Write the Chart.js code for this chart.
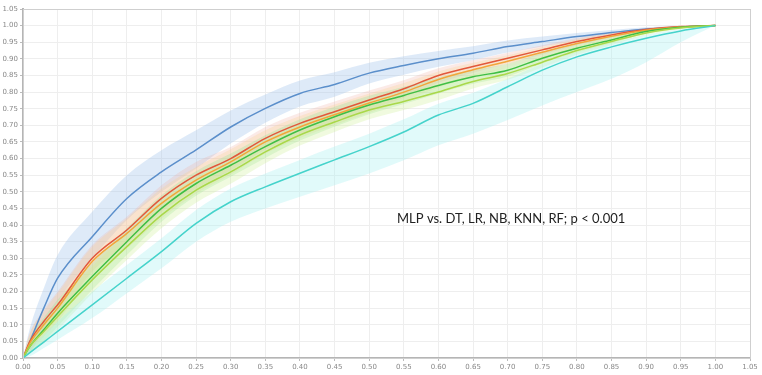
<!DOCTYPE html>
<html>
<head>
<meta charset="utf-8">
<script src="https://cdn.jsdelivr.net/npm/chart.js@4.4.1/dist/chart.umd.min.js"></script>
<style>
  html, body { margin: 0; padding: 0; background: #fff; }
  #wrap { width: 762px; height: 375px; position: relative; }
</style>
</head>
<body>
<div id="wrap"><canvas id="roc"></canvas></div>
<script>
// false positive rate grid shared by every curve
const fpr = [0, 0.01, 0.03, 0.05, 0.1, 0.15, 0.2, 0.25, 0.3, 0.35, 0.4, 0.45, 0.5, 0.55, 0.6, 0.65, 0.7, 0.75, 0.8, 0.85, 0.9, 0.95, 1];

// mean TPR + band edges
const blueMean = [0, 0.05, 0.15, 0.24, 0.365, 0.48, 0.56, 0.626, 0.695, 0.751, 0.796, 0.823, 0.857, 0.88, 0.9, 0.917, 0.937, 0.952, 0.967, 0.979, 0.99, 0.996, 1];
const blueUp   = [0, 0.09, 0.21, 0.31, 0.44, 0.55, 0.625, 0.685, 0.745, 0.793, 0.835, 0.86, 0.888, 0.908, 0.924, 0.938, 0.955, 0.967, 0.978, 0.987, 0.995, 0.998, 1];
const blueLo   = [0, 0.015, 0.09, 0.17, 0.3, 0.415, 0.5, 0.57, 0.645, 0.708, 0.757, 0.786, 0.826, 0.852, 0.876, 0.896, 0.919, 0.937, 0.955, 0.97, 0.985, 0.994, 1];

const redMean = [0, 0.05, 0.11, 0.16, 0.3, 0.385, 0.48, 0.55, 0.6, 0.661, 0.706, 0.741, 0.776, 0.81, 0.85, 0.877, 0.902, 0.927, 0.952, 0.972, 0.988, 0.997, 1];
const redUp   = [0, 0.075, 0.145, 0.2, 0.34, 0.425, 0.52, 0.59, 0.635, 0.695, 0.738, 0.772, 0.805, 0.836, 0.872, 0.896, 0.918, 0.941, 0.963, 0.98, 0.993, 0.999, 1];
const redLo   = [0, 0.025, 0.075, 0.12, 0.26, 0.345, 0.44, 0.51, 0.565, 0.627, 0.674, 0.71, 0.747, 0.784, 0.828, 0.858, 0.886, 0.913, 0.941, 0.964, 0.983, 0.995, 1];

const orangeMean = [0, 0.045, 0.1, 0.15, 0.29, 0.375, 0.465, 0.535, 0.59, 0.65, 0.695, 0.732, 0.767, 0.8, 0.838, 0.867, 0.893, 0.92, 0.946, 0.968, 0.986, 0.996, 1];
const orangeUp   = [0, 0.075, 0.14, 0.195, 0.335, 0.42, 0.51, 0.575, 0.628, 0.685, 0.728, 0.763, 0.796, 0.827, 0.862, 0.888, 0.911, 0.936, 0.959, 0.978, 0.992, 0.998, 1];
const orangeLo   = [0, 0.02, 0.065, 0.11, 0.245, 0.33, 0.42, 0.495, 0.552, 0.615, 0.662, 0.701, 0.738, 0.773, 0.814, 0.846, 0.875, 0.904, 0.933, 0.958, 0.98, 0.994, 1];

const greenMean = [0, 0.035, 0.085, 0.135, 0.245, 0.35, 0.45, 0.525, 0.58, 0.636, 0.686, 0.726, 0.761, 0.79, 0.82, 0.846, 0.866, 0.902, 0.932, 0.957, 0.982, 0.995, 1];
const greenUp   = [0, 0.06, 0.12, 0.175, 0.285, 0.39, 0.49, 0.562, 0.615, 0.67, 0.718, 0.756, 0.789, 0.816, 0.844, 0.867, 0.885, 0.918, 0.945, 0.967, 0.988, 0.997, 1];
const greenLo   = [0, 0.015, 0.05, 0.095, 0.205, 0.31, 0.41, 0.488, 0.545, 0.602, 0.654, 0.696, 0.733, 0.764, 0.796, 0.825, 0.847, 0.886, 0.919, 0.947, 0.976, 0.993, 1];

const limeMean = [0, 0.035, 0.08, 0.125, 0.235, 0.335, 0.43, 0.505, 0.56, 0.62, 0.671, 0.71, 0.746, 0.772, 0.8, 0.832, 0.856, 0.89, 0.925, 0.952, 0.978, 0.993, 1];
const limeUp   = [0, 0.06, 0.115, 0.165, 0.275, 0.375, 0.47, 0.543, 0.596, 0.654, 0.703, 0.74, 0.774, 0.798, 0.824, 0.853, 0.875, 0.906, 0.938, 0.962, 0.985, 0.996, 1];
const limeLo   = [0, 0.015, 0.045, 0.085, 0.195, 0.295, 0.39, 0.467, 0.524, 0.586, 0.639, 0.68, 0.718, 0.746, 0.776, 0.811, 0.837, 0.874, 0.912, 0.942, 0.971, 0.99, 1];

const cyanMean = [0, 0.016, 0.048, 0.08, 0.16, 0.24, 0.32, 0.405, 0.47, 0.515, 0.556, 0.596, 0.636, 0.68, 0.731, 0.766, 0.816, 0.866, 0.906, 0.936, 0.962, 0.984, 1];
const cyanUp   = [0, 0.03, 0.07, 0.11, 0.2, 0.28, 0.36, 0.445, 0.51, 0.555, 0.596, 0.636, 0.675, 0.718, 0.765, 0.798, 0.84, 0.885, 0.92, 0.948, 0.972, 0.99, 1];
const cyanLo   = [0, 0.005, 0.03, 0.055, 0.12, 0.195, 0.27, 0.35, 0.41, 0.45, 0.485, 0.52, 0.555, 0.595, 0.64, 0.675, 0.716, 0.76, 0.8, 0.84, 0.89, 0.95, 1];

const noteText = "MLP vs. DT, LR, NB, KNN, RF; p < 0.001";

const pts = arr => arr.map((v, i) => ({x: fpr[i], y: v}));

// series: [mean, up, lo, line colour, band colour]
const series = [
  [cyanMean, cyanUp, cyanLo, "#45d3cb", "rgba(170,240,240,0.35)"],
  [limeMean, limeUp, limeLo, "#a9d84a", "rgba(205,240,150,0.3)"],
  [greenMean, greenUp, greenLo, "#3fbf45", "rgba(150,225,150,0.3)"],
  [orangeMean, orangeUp, orangeLo, "#f2a63a", "rgba(250,210,150,0.3)"],
  [redMean, redUp, redLo, "#e2583b", "rgba(240,170,160,0.25)"],
  [blueMean, blueUp, blueLo, "#5b8fcb", "rgba(160,195,235,0.35)"]
];

const datasets = [];
series.forEach((s, k) => {
  datasets.push({data: pts(s[1]), borderWidth: 0, backgroundColor: s[4], fill: "+1", order: 10 + k, pointRadius: 0, cubicInterpolationMode: "monotone"});
  datasets.push({data: pts(s[2]), borderWidth: 0, backgroundColor: s[4], fill: false, order: 10 + k, pointRadius: 0, cubicInterpolationMode: "monotone"});
});
series.forEach((s, k) => {
  datasets.push({data: pts(s[0]), borderColor: s[3], borderWidth: 1.5, fill: false, order: k, pointRadius: 0, cubicInterpolationMode: "monotone"});
});

const frame = {
  id: "frame",
  afterDraw(chart) {
    const {ctx, chartArea: a, scales} = chart;
    ctx.save();
    ctx.strokeStyle = "#cfcfcf";
    ctx.lineWidth = 1;
    ctx.strokeRect(a.left + 0.5, a.top + 0.5, a.right - a.left, a.bottom - a.top);
    ctx.fillStyle = "#222";
    ctx.font = "13px Lato, 'Open Sans', sans-serif";
    ctx.textAlign = "center";
    ctx.textBaseline = "middle";
    ctx.fillText(noteText, scales.x.getPixelForValue(0.705), scales.y.getPixelForValue(0.42));
    ctx.restore();
  }
};

const tickFmt = v => Number(v).toFixed(2);

new Chart(document.getElementById("roc"), {
  type: "line",
  data: {datasets},
  options: {
    responsive: true,
    maintainAspectRatio: false,
    animation: false,
    layout: {padding: {top: 9, right: 12, left: 0, bottom: 0}},
    plugins: {legend: {display: false}, tooltip: {enabled: false}},
    scales: {
      x: {
        type: "linear", min: 0, max: 1.05,
        afterFit: s => { s.height = 17; },
        ticks: {stepSize: 0.05, callback: tickFmt, color: "#888", font: {size: 7, family: "DejaVu Sans"}, maxRotation: 0, autoSkip: false, padding: 2},
        grid: {color: "#eeeeee", tickLength: 3, tickColor: "#bbb"},
        border: {color: "#b5b5b5", width: 2}
      },
      y: {
        min: 0, max: 1.05,
        afterFit: s => { s.width = 23; },
        ticks: {stepSize: 0.05, callback: tickFmt, color: "#888", font: {size: 7, family: "DejaVu Sans"}, autoSkip: false, padding: 2},
        grid: {color: "#eeeeee", tickLength: 3, tickColor: "#bbb"},
        border: {color: "#b5b5b5", width: 2}
      }
    }
  },
  plugins: [frame]
});
</script>
</body>
</html>
